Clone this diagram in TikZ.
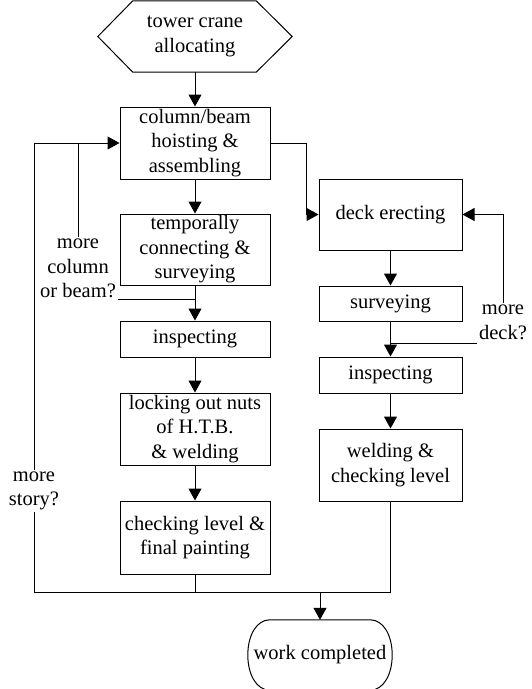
\documentclass[tikz,border=0pt]{standalone}
\usepackage{fontspec}
\setmainfont{Liberation Serif}
\usetikzlibrary{arrows.meta}
\begin{document}
\begin{tikzpicture}[x=1pt,y=-1pt,
  every node/.style={font=\fontsize{20.5}{24.5}\selectfont, align=center, inner sep=0pt},
  line/.style={line width=1pt},
  arr/.style={line width=1pt, -{Triangle[length=12pt,width=13pt]}},
  leftbox/.style={draw, line width=1pt, minimum width=150pt},
  rightbox/.style={draw, line width=1pt, minimum width=143pt},
  question/.style={inner sep=2pt},
]
\useasboundingbox (0,0) rectangle (531,689);

% start: hexagon
\node[minimum width=194pt, minimum height=71pt] (hex) at (195,36.5) {tower crane\\allocating};
\draw[line] (hex.west) -- ([xshift=35pt]hex.north west) -- ([xshift=-36pt]hex.north east)
  -- (hex.east) -- ([xshift=-36pt]hex.south east) -- ([xshift=35pt]hex.south west) -- cycle;

% column and beam steps
\node[leftbox, minimum height=72pt] (b1) at (195,143) {column/beam\\hoisting \&\\assembling};
\node[leftbox, minimum height=71pt] (b2) at (195,249.5) {temporally\\connecting \&\\surveying};
\node[leftbox, minimum height=36pt] (b3) at (195,339) {inspecting};
\node[leftbox, minimum height=72pt] (b4) at (195,429) {locking out nuts\\of H.T.B.\\\& welding};
\node[leftbox, minimum height=73pt] (b5) at (195,537.5) {checking level \&\\final painting};

% deck steps
\node[rightbox, minimum height=71pt] (r1) at (390.5,214.5) {deck erecting};
\node[rightbox, minimum height=35pt] (r2) at (390.5,303.5) {surveying};
\node[rightbox, minimum height=36pt] (r3) at (390.5,375) {inspecting};
\node[rightbox, minimum height=72pt] (r4) at (390.5,465) {welding \&\\checking level};

% end: terminator with elliptical ends
\node[minimum width=144pt, minimum height=70pt] (done) at (320,655) {work completed};
\draw[line] ([xshift=22pt]done.north west) -- ([xshift=-22pt]done.north east)
  .. controls ([xshift=-9pt]done.north east) and ([yshift=20pt]done.east) .. (done.east)
  .. controls ([yshift=-20pt]done.east) and ([xshift=-9pt]done.south east) .. ([xshift=-22pt]done.south east)
  -- ([xshift=22pt]done.south west)
  .. controls ([xshift=9pt]done.south west) and ([yshift=-20pt]done.west) .. (done.west)
  .. controls ([yshift=20pt]done.west) and ([xshift=9pt]done.north west) .. ([xshift=22pt]done.north west)
  -- cycle;

% loop questions
\node[question] (qcol) at (78,268.5) {more\\column\\or beam?};
\node[question] (qdeck) at (503,322.5) {more\\deck?};
\node[question] (qstory) at (34,491) {more\\story?};

% junctions
\coordinate (jc) at (195,299);
\coordinate (jd) at (390.5,343);
\coordinate (mrg) at (320,592);

% main flow
\draw[arr] (hex) -- (b1);
\draw[arr] (b1) -- (b2);
\draw[arr] (b2) -- (b3);
\draw[arr] (b3) -- (b4);
\draw[arr] (b4) -- (b5);
\draw[arr] (r1) -- (r2);
\draw[arr] (r2) -- (r3);
\draw[arr] (r3) -- (r4);
\draw[arr] (b1.east) -- ++(36,0) |- (r1.west);

% column/beam loop
\draw[line] (jc) -- (qcol.east |- jc);
\draw[line] (qcol.north) -- (qcol.north |- b1.west);

% deck loop
\draw[line] (jd) -- (qdeck.west |- jd);
\draw[arr] (qdeck.north) |- (r1.east);

% story loop
\draw[arr] (qstory.north) |- (b1.west);
\draw[line] (qstory.south) |- (mrg);
\draw[line] (b5.south) |- (mrg);
\draw[line] (r4.south) |- (mrg);
\draw[arr] (mrg) -- (done.north);
\end{tikzpicture}
\end{document}
